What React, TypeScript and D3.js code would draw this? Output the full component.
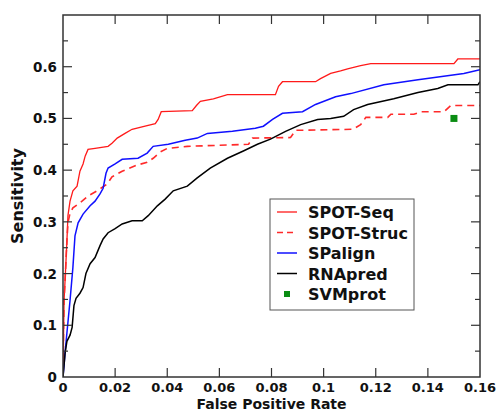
import React from "react";
import * as d3 from "d3";

const xTicks = [0, 0.02, 0.04, 0.06, 0.08, 0.1, 0.12, 0.14, 0.16];
const yTicks = [0, 0.1, 0.2, 0.3, 0.4, 0.5, 0.6];
const yMinorTicks = [0.05, 0.15, 0.25, 0.35, 0.45, 0.55, 0.65];

const spotSeq: [number, number][] = [
  [0, 0], [0.0004, 0.148], [0.0008, 0.187], [0.0015, 0.263], [0.0019, 0.312], [0.0027, 0.34],
  [0.0038, 0.36], [0.0054, 0.369], [0.0065, 0.398], [0.0077, 0.412], [0.0085, 0.427], [0.0096, 0.44],
  [0.0123, 0.442], [0.0173, 0.446], [0.0188, 0.452], [0.0208, 0.462], [0.0238, 0.471], [0.0265, 0.479],
  [0.0315, 0.485], [0.0354, 0.49], [0.0365, 0.498], [0.0377, 0.513], [0.0496, 0.515], [0.0512, 0.525],
  [0.0527, 0.533], [0.0577, 0.538], [0.0631, 0.546], [0.0815, 0.546], [0.0827, 0.562], [0.0842, 0.571],
  [0.0969, 0.571], [0.0988, 0.577], [0.1027, 0.587], [0.1065, 0.592], [0.1092, 0.596], [0.1142, 0.602],
  [0.1181, 0.606], [0.15, 0.606], [0.1515, 0.615], [0.16, 0.615],
];

const spotStruc: [number, number][] = [
  [0, 0], [0.0002, 0.09], [0.0004, 0.148], [0.0008, 0.187], [0.0015, 0.263], [0.0019, 0.298],
  [0.0027, 0.317], [0.0038, 0.327], [0.0073, 0.34], [0.0096, 0.35], [0.0131, 0.36], [0.0169, 0.373],
  [0.0188, 0.387], [0.0227, 0.398], [0.0285, 0.41], [0.0323, 0.415], [0.0346, 0.423], [0.0373, 0.435],
  [0.04, 0.442], [0.0477, 0.446], [0.0712, 0.45], [0.0727, 0.462], [0.0873, 0.463], [0.0892, 0.477],
  [0.1112, 0.479], [0.1142, 0.488], [0.1162, 0.502], [0.1246, 0.502], [0.1258, 0.508], [0.1346, 0.508],
  [0.1373, 0.513], [0.1462, 0.513], [0.1488, 0.525], [0.16, 0.525],
];

const spAlign: [number, number][] = [
  [0, 0], [0.0004, 0.023], [0.0008, 0.048], [0.0015, 0.085], [0.0027, 0.148], [0.0038, 0.212],
  [0.0046, 0.273], [0.0058, 0.298], [0.0077, 0.315], [0.0104, 0.331], [0.0123, 0.34], [0.0142, 0.354],
  [0.0154, 0.365], [0.0165, 0.394], [0.0173, 0.404], [0.02, 0.412], [0.0227, 0.421], [0.0288, 0.423],
  [0.0323, 0.433], [0.0346, 0.446], [0.0404, 0.45], [0.0469, 0.458], [0.0515, 0.462], [0.0554, 0.471],
  [0.065, 0.475], [0.0738, 0.481], [0.0769, 0.485], [0.0804, 0.498], [0.0842, 0.51], [0.0919, 0.513],
  [0.0969, 0.527], [0.1046, 0.542], [0.1104, 0.548], [0.1231, 0.565], [0.1362, 0.575], [0.1538, 0.587],
  [0.16, 0.594],
];

const rnaPred: [number, number][] = [
  [0, 0], [0.0004, 0.023], [0.0008, 0.046], [0.0015, 0.069], [0.0027, 0.081], [0.0035, 0.096],
  [0.0042, 0.138], [0.005, 0.152], [0.0065, 0.162], [0.0077, 0.173], [0.0088, 0.2], [0.0104, 0.219],
  [0.0123, 0.231], [0.0142, 0.254], [0.0154, 0.267], [0.0173, 0.279], [0.02, 0.287], [0.0227, 0.296],
  [0.0265, 0.302], [0.0304, 0.302], [0.0327, 0.312], [0.0362, 0.331], [0.0392, 0.344], [0.0423, 0.36],
  [0.0477, 0.369], [0.0515, 0.385], [0.0565, 0.404], [0.0631, 0.423], [0.0692, 0.437], [0.0746, 0.45],
  [0.0796, 0.46], [0.0854, 0.475], [0.0912, 0.488], [0.0977, 0.498], [0.1027, 0.5], [0.1077, 0.504],
  [0.1115, 0.517], [0.1169, 0.527], [0.1269, 0.538], [0.1362, 0.55], [0.1438, 0.558], [0.1477, 0.565],
  [0.1592, 0.565], [0.16, 0.571],
];

const svmProt: [number, number][] = [[0.15, 0.5]];

const seriesNames = ["SPOT-Seq", "SPOT-Struc", "SPalign", "RNApred", "SVMprot"];

const W = 496;
const H = 412;
const left = 63;
const right = 480;
const top = 15;
const bottom = 377;
const FONT = "'DejaVu Sans', sans-serif";

export default function App() {
  const x = d3.scaleLinear().domain([0, 0.16]).range([left, right]);
  const y = d3.scaleLinear().domain([0, 0.7]).range([bottom, top]);
  const line = d3
    .line<[number, number]>()
    .x((d) => x(d[0]))
    .y((d) => y(d[1]));

  const lines = [
    { data: spotSeq, color: "#ff1a1a", width: 1.3, dash: undefined as string | undefined },
    { data: spotStruc, color: "#ff2a2a", width: 1.6, dash: "7,5" },
    { data: spAlign, color: "#1010ff", width: 1.5, dash: undefined },
    { data: rnaPred, color: "#000000", width: 1.5, dash: undefined },
  ];

  const legendX = 270;
  const legendY = 199;
  const rowY = (i: number) => legendY + 13 + i * 20.5;

  return (
    <svg
      width={W}
      height={H}
      style={{ position: "absolute", left: 0, top: 0, background: "#fff" }}
      fontFamily={FONT}
    >
      <defs>
        <clipPath id="plot">
          <rect x={left} y={top} width={right - left} height={bottom - top} />
        </clipPath>
      </defs>
      <g clipPath="url(#plot)">
        {lines.map((l, i) => (
          <path
            key={i}
            d={line(l.data) || ""}
            fill="none"
            stroke={l.color}
            strokeWidth={l.width}
            strokeDasharray={l.dash}
          />
        ))}
      </g>
      {svmProt.map((d, i) => (
        <rect key={i} x={x(d[0]) - 3.5} y={y(d[1]) - 3.5} width={7} height={7} fill="#0a8c12" />
      ))}

      {/* ticks */}
      {xTicks.slice(1, -1).map((t) => (
        <g key={"xt" + t} stroke="#333" strokeWidth={1.2}>
          <line x1={x(t)} x2={x(t)} y1={bottom} y2={bottom - 9} />
          <line x1={x(t)} x2={x(t)} y1={top} y2={top + 9} />
        </g>
      ))}
      {yTicks.slice(1).map((t) => (
        <g key={"yt" + t} stroke="#333" strokeWidth={1.2}>
          <line x1={left} x2={left + 9} y1={y(t)} y2={y(t)} />
          <line x1={right} x2={right - 9} y1={y(t)} y2={y(t)} />
        </g>
      ))}
      {yMinorTicks.map((t) => (
        <g key={"ym" + t} stroke="#333" strokeWidth={1.2}>
          <line x1={left} x2={left + 5} y1={y(t)} y2={y(t)} />
          <line x1={right} x2={right - 5} y1={y(t)} y2={y(t)} />
        </g>
      ))}
      <rect
        x={left}
        y={top}
        width={right - left}
        height={bottom - top}
        fill="none"
        stroke="#333"
        strokeWidth={1.5}
      />

      {/* tick labels */}
      {xTicks.map((t) => (
        <text
          key={"xl" + t}
          x={x(t)}
          y={bottom + 14.5}
          textAnchor="middle"
          fontSize={13}
          fontWeight="bold"
          fill="#111"
        >
          {d3.format("~g")(t)}
        </text>
      ))}
      {yTicks.map((t) => (
        <text
          key={"yl" + t}
          x={left - 6}
          y={y(t) + 5}
          textAnchor="end"
          fontSize={13.5}
          fontWeight="bold"
          fill="#111"
        >
          {d3.format("~g")(t)}
        </text>
      ))}

      {/* axis titles */}
      <text
        x={(left + right) / 2}
        y={408.5}
        textAnchor="middle"
        fontSize={14}
        fontWeight="bold"
        fill="#111"
      >
        False Positive Rate
      </text>
      <text
        transform={`translate(23,${(top + bottom) / 2}) rotate(-90)`}
        textAnchor="middle"
        fontSize={16}
        fontWeight="bold"
        fill="#111"
      >
        Sensitivity
      </text>

      {/* legend */}
      <rect x={legendX} y={legendY} width={144} height={111} fill="#fff" stroke="#555" strokeWidth={1} />
      {seriesNames.map((name, i) => (
        <g key={name}>
          {i < 4 ? (
            <line
              x1={277}
              x2={297}
              y1={rowY(i)}
              y2={rowY(i)}
              stroke={lines[i].color}
              strokeWidth={lines[i].width}
              strokeDasharray={i === 1 ? "6,4" : undefined}
            />
          ) : (
            <rect x={284} y={rowY(i) - 3} width={6} height={6} fill="#0a8c12" />
          )}
          <text x={308} y={rowY(i) + 6} fontSize={16} fontWeight="bold" fill="#111">
            {name}
          </text>
        </g>
      ))}
    </svg>
  );
}
